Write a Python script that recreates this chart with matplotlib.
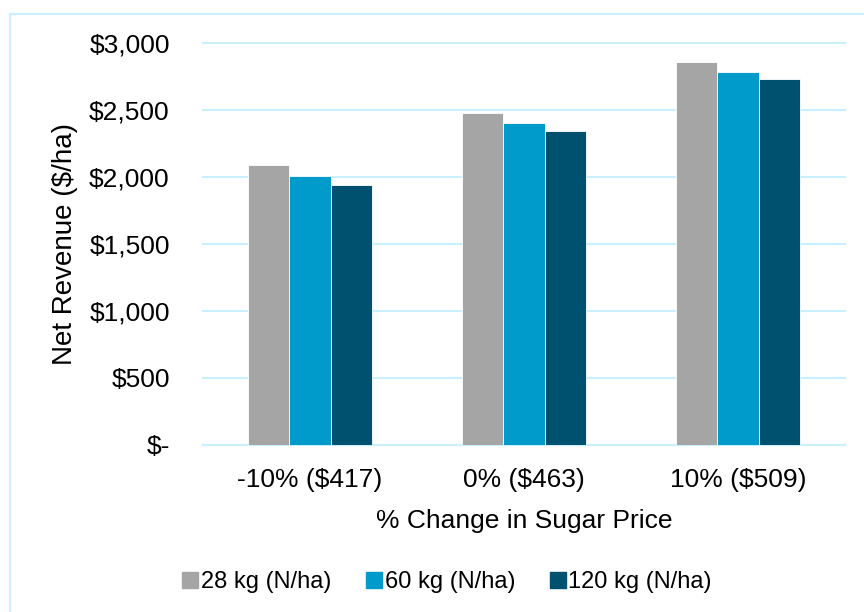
import numpy as np
import matplotlib.pyplot as plt
from matplotlib.lines import Line2D

plt.rcParams['font.family'] = ['Liberation Sans', 'DejaVu Sans']

# net revenue per hectare at each sugar price scenario
price_labels = ['-10% ($417)', '0% ($463)', '10% ($509)']
series_names = ['28 kg (N/ha)', '60 kg (N/ha)', '120 kg (N/ha)']
rev_28 = [2088, 2482, 2862]
rev_60 = [2008, 2401, 2789]
rev_120 = [1940, 2341, 2733]
y_ticks = [0, 500, 1000, 1500, 2000, 2500, 3000]
y_tick_labels = ['$-', '$500', '$1,000', '$1,500', '$2,000', '$2,500', '$3,000']

colors = ['#A5A5A5', '#009ACB', '#00506F']
grid_col = '#C9F0FF'

fig = plt.figure(figsize=(8.64, 6.12), dpi=100)
ax = fig.add_axes([0.235, 0.2734, 0.743, 0.6558])

x = np.arange(len(price_labels))
w = 0.194
for i, (vals, name) in enumerate(zip([rev_28, rev_60, rev_120], series_names)):
    ax.bar(x + (i - 1) * w, vals, w, color=colors[i], label=name,
           edgecolor='white', linewidth=0.6, zorder=3)

ax.set_xlim(-0.5, 2.5)
ax.set_ylim(0, 3000)
ax.set_yticks(y_ticks)
ax.set_yticklabels(y_tick_labels)
ax.set_xticks(x)
ax.set_xticklabels(price_labels)
ax.tick_params(axis='y', length=0, pad=24, labelsize=19)
ax.tick_params(axis='x', length=0, pad=17, labelsize=19)
ax.grid(axis='y', color=grid_col, linewidth=1.5, zorder=0)
for gl in ax.get_ygridlines():
    gl.set_clip_on(False)
for s in ['top', 'right', 'left']:
    ax.spines[s].set_visible(False)
ax.spines['bottom'].set_color(grid_col)
ax.spines['bottom'].set_linewidth(1.5)

ax.set_xlabel('% Change in Sugar Price', fontsize=19, labelpad=12)
ax.set_ylabel('Net Revenue ($/ha)', fontsize=20)
ax.yaxis.set_label_coords(-0.195, 0.5)

handles = [Line2D([], [], marker='s', linestyle='none', markersize=11,
                  markerfacecolor=c, markeredgecolor=c) for c in colors]
fig.legend(handles, series_names, loc='center', bbox_to_anchor=(0.518, 0.049),
           ncol=3, frameon=False, fontsize=17, handlelength=0.6,
           handletextpad=0.15, columnspacing=1.5)

# chart area outline (top and left edges)
fig.add_artist(Line2D([10 / 864, 1.0], [1 - 14 / 612, 1 - 14 / 612],
                      transform=fig.transFigure, color=grid_col, linewidth=1.5))
fig.add_artist(Line2D([10 / 864, 10 / 864], [1 - 14 / 612, 0.0],
                      transform=fig.transFigure, color=grid_col, linewidth=1.5))

fig.savefig('out.png', dpi=100)
